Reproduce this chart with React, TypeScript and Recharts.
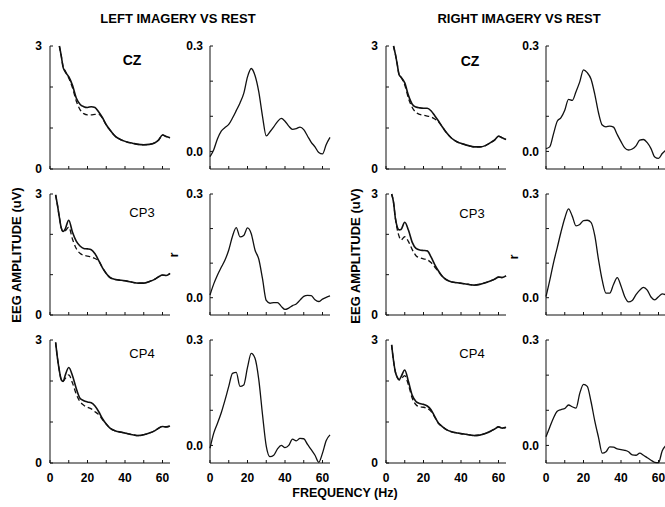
import React from "react";
import { Line, LineChart, XAxis, YAxis } from "recharts";

const FONT = '"Liberation Sans", Arial, Helvetica, sans-serif';

// frequency (Hz) grids
const AMP_FREQ = [3, 4, 5, 6, 7, 8, 10, 12, 14, 16, 18, 20, 22, 24, 26, 28, 30, 32, 35, 38, 41, 44, 47, 50, 53, 56, 58, 60, 62, 64];
const R_FREQ = [0, 2, 4, 6, 8, 10, 12, 14, 16, 18, 20, 22, 24, 26, 28, 30, 32, 34, 36, 38, 40, 42, 44, 46, 48, 50, 52, 54, 56, 58, 60, 62, 64];

const FREQ_TICKS = [0, 10, 20, 30, 40, 50, 60];
const AMP_TICKS = [0, 1, 2, 3];
const R_TICKS = [0, 0.1, 0.2, 0.3];

// EEG amplitude (uV): solid = imagery, dashed = rest
const CZ_L_SOLID = [null, null, 3.0, 2.76, 2.48, 2.38, 2.25, 2.04, 1.73, 1.58, 1.52, 1.50, 1.52, 1.50, 1.39, 1.25, 1.08, 0.95, 0.79, 0.71, 0.66, 0.63, 0.60, 0.59, 0.60, 0.64, 0.71, 0.83, 0.79, 0.76];
const CZ_L_DASH = [null, null, 3.0, 2.76, 2.50, 2.40, 2.22, 1.98, 1.66, 1.45, 1.35, 1.32, 1.32, 1.33, 1.33, 1.24, 1.07, 0.95, 0.79, 0.71, 0.66, 0.63, 0.60, 0.59, 0.60, 0.64, 0.71, 0.83, 0.79, 0.76];
const CP3_L_SOLID = [2.98, 2.72, 2.42, 2.16, 2.07, 2.12, 2.35, 2.05, 1.83, 1.71, 1.65, 1.64, 1.62, 1.52, 1.35, 1.17, 1.03, 0.93, 0.88, 0.86, 0.84, 0.81, 0.79, 0.79, 0.83, 0.89, 0.95, 0.99, 0.98, 1.03];
const CP3_L_DASH = [2.98, 2.72, 2.42, 2.16, 2.07, 2.08, 2.18, 1.88, 1.65, 1.53, 1.48, 1.46, 1.44, 1.40, 1.34, 1.17, 1.03, 0.93, 0.88, 0.86, 0.84, 0.81, 0.79, 0.79, 0.83, 0.89, 0.95, 0.99, 0.98, 1.03];
const CP4_L_SOLID = [2.94, 2.55, 2.25, 2.03, 1.99, 2.12, 2.33, 2.13, 1.82, 1.58, 1.52, 1.49, 1.47, 1.39, 1.25, 1.08, 0.95, 0.85, 0.78, 0.75, 0.72, 0.69, 0.67, 0.69, 0.73, 0.79, 0.85, 0.89, 0.88, 0.90];
const CP4_L_DASH = [2.94, 2.55, 2.25, 2.03, 1.99, 2.05, 2.15, 1.95, 1.68, 1.50, 1.41, 1.36, 1.32, 1.25, 1.18, 1.06, 0.95, 0.85, 0.78, 0.75, 0.72, 0.69, 0.67, 0.69, 0.73, 0.79, 0.85, 0.89, 0.88, 0.90];

const CZ_R_SOLID = [null, 3.0, 2.80, 2.55, 2.30, 2.24, 2.10, 1.79, 1.58, 1.51, 1.49, 1.48, 1.48, 1.42, 1.30, 1.17, 1.03, 0.90, 0.75, 0.66, 0.61, 0.57, 0.54, 0.54, 0.57, 0.65, 0.71, 0.80, 0.76, 0.72];
const CZ_R_DASH = [null, 3.0, 2.80, 2.55, 2.30, 2.24, 2.05, 1.72, 1.50, 1.38, 1.33, 1.31, 1.29, 1.27, 1.22, 1.15, 1.03, 0.90, 0.75, 0.66, 0.61, 0.57, 0.54, 0.54, 0.57, 0.65, 0.71, 0.80, 0.76, 0.72];
const CP3_R_SOLID = [3.0, 2.80, 2.40, 2.18, 2.11, 2.12, 2.30, 2.10, 1.80, 1.65, 1.61, 1.60, 1.59, 1.44, 1.25, 1.09, 0.96, 0.88, 0.82, 0.80, 0.78, 0.76, 0.74, 0.76, 0.80, 0.85, 0.89, 0.94, 0.93, 0.97];
const CP3_R_DASH = [3.0, 2.80, 2.40, 2.12, 1.95, 1.86, 1.94, 1.82, 1.62, 1.47, 1.42, 1.39, 1.37, 1.30, 1.19, 1.07, 0.96, 0.88, 0.82, 0.80, 0.78, 0.76, 0.74, 0.76, 0.80, 0.85, 0.89, 0.94, 0.93, 0.97];
const CP4_R_SOLID = [2.88, 2.50, 2.22, 2.09, 2.03, 2.10, 2.27, 1.98, 1.65, 1.50, 1.45, 1.43, 1.39, 1.30, 1.13, 0.97, 0.89, 0.82, 0.76, 0.73, 0.71, 0.69, 0.67, 0.68, 0.72, 0.78, 0.83, 0.88, 0.85, 0.87];
const CP4_R_DASH = [2.88, 2.50, 2.22, 2.09, 2.03, 2.05, 2.13, 1.90, 1.58, 1.42, 1.37, 1.36, 1.33, 1.26, 1.12, 0.97, 0.89, 0.82, 0.76, 0.73, 0.71, 0.69, 0.67, 0.68, 0.72, 0.78, 0.83, 0.88, 0.85, 0.87];

// correlation r
const CZ_L_R = [-0.015, 0.005, 0.036, 0.058, 0.068, 0.077, 0.095, 0.116, 0.138, 0.165, 0.212, 0.236, 0.216, 0.170, 0.100, 0.044, 0.056, 0.070, 0.085, 0.094, 0.086, 0.072, 0.063, 0.065, 0.069, 0.062, 0.044, 0.026, 0.013, -0.003, -0.007, 0.020, 0.040];
const CP3_L_R = [0.008, 0.040, 0.066, 0.088, 0.109, 0.138, 0.178, 0.203, 0.176, 0.180, 0.202, 0.185, 0.138, 0.112, 0.055, -0.008, -0.016, -0.014, -0.014, -0.025, -0.034, -0.030, -0.023, -0.018, -0.007, 0.004, 0.007, 0.006, -0.006, -0.011, -0.004, 0.001, 0.005];
const CP4_L_R = [-0.008, 0.035, 0.063, 0.093, 0.129, 0.168, 0.205, 0.208, 0.168, 0.172, 0.222, 0.262, 0.248, 0.188, 0.088, -0.002, -0.032, -0.028, -0.010, 0.000, -0.006, 0.000, 0.018, 0.013, 0.020, 0.019, 0.003, -0.012, -0.028, -0.048, -0.022, 0.014, 0.030];
const CZ_R_R = [0.008, 0.013, 0.050, 0.086, 0.096, 0.117, 0.148, 0.145, 0.170, 0.198, 0.232, 0.224, 0.206, 0.163, 0.110, 0.075, 0.070, 0.072, 0.069, 0.048, 0.028, 0.010, 0.004, 0.007, 0.016, 0.032, 0.034, 0.025, 0.008, -0.016, -0.020, -0.006, 0.004];
const CP3_R_R = [0.003, 0.050, 0.101, 0.145, 0.190, 0.230, 0.257, 0.236, 0.208, 0.212, 0.223, 0.224, 0.218, 0.180, 0.110, 0.050, 0.013, 0.013, 0.038, 0.058, 0.034, 0.003, -0.012, -0.008, 0.009, 0.022, 0.030, 0.022, 0.002, -0.006, 0.003, 0.011, 0.008];
const CP4_R_R = [0.025, 0.052, 0.078, 0.097, 0.102, 0.105, 0.115, 0.110, 0.106, 0.148, 0.174, 0.168, 0.125, 0.070, 0.023, -0.022, -0.018, -0.004, -0.005, -0.010, -0.012, -0.014, -0.018, -0.027, -0.028, -0.022, -0.028, -0.035, -0.042, -0.048, -0.049, -0.015, 0.000];

const COL_X = [50, 210, 386, 546];
const ROW_Y = [46, 194, 340];
const ROW_H = [123, 121, 123];
const PLOT_W = 120;
const Y_AXIS_W = 40;
const PAD_TOP = 6;
const PAD_RIGHT = 6;
const X_AXIS_H = 30;
const INK = "#111";

const tickStyle = { fontSize: 12, fontWeight: 700, fill: "#000", fontFamily: FONT };

type Val = number | null;

function Panel({
  col,
  row,
  kind,
  series,
}: {
  col: number;
  row: number;
  kind: "amp" | "r";
  series: Val[][];
}) {
  const freq = kind === "amp" ? AMP_FREQ : R_FREQ;
  const data = freq.map((f, i) => {
    const p: Record<string, Val> = { f };
    series.forEach((s, k) => (p["s" + k] = s[i]));
    return p;
  });
  const h = ROW_H[row];
  const showX = row === 2;
  return (
    <div style={{ position: "absolute", left: COL_X[col] - Y_AXIS_W, top: ROW_Y[row] - PAD_TOP }}>
      <LineChart
        width={Y_AXIS_W + PLOT_W + PAD_RIGHT}
        height={PAD_TOP + h + X_AXIS_H}
        data={data}
        margin={{ top: PAD_TOP, right: PAD_RIGHT, left: 0, bottom: 0 }}
      >
        <XAxis
          dataKey="f"
          type="number"
          domain={[0, 64]}
          ticks={FREQ_TICKS}
          interval={0}
          height={X_AXIS_H}
          stroke={INK}
          tickSize={-3}
          tickMargin={13}
          tick={tickStyle}
          tickFormatter={(v: number) => (showX && v % 20 === 0 ? String(v) : "")}
        />
        {kind === "amp" ? (
          <YAxis
            type="number"
            domain={[0, 3]}
            ticks={AMP_TICKS}
            interval={0}
            width={Y_AXIS_W}
            stroke={INK}
            tickSize={-3}
            tickMargin={11}
            tick={tickStyle}
            tickFormatter={(v: number) => (v === 0 || v === 3 ? String(v) : "")}
          />
        ) : (
          <YAxis
            type="number"
            domain={[-0.05, 0.3]}
            ticks={R_TICKS}
            interval={0}
            width={Y_AXIS_W}
            stroke={INK}
            tickSize={-3}
            tickMargin={10}
            tick={tickStyle}
            tickFormatter={(v: number) => (v === 0 ? "0.0" : v === 0.3 ? "0.3" : "")}
          />
        )}
        {series.map((_, k) => (
          <Line
            key={k}
            dataKey={"s" + k}
            type="monotone"
            stroke={INK}
            strokeWidth={kind === "amp" ? (k === 0 ? 1.6 : 1.3) : 1.3}
            strokeDasharray={k === 1 ? "5 3" : undefined}
            dot={false}
            activeDot={false}
            isAnimationActive={false}
          />
        ))}
      </LineChart>
    </div>
  );
}

function Label({
  x,
  y,
  text,
  size = 12,
  bold = true,
  rotate = false,
}: {
  x: number;
  y: number;
  text: string;
  size?: number;
  bold?: boolean;
  rotate?: boolean;
}) {
  return (
    <div
      style={{
        position: "absolute",
        left: x,
        top: y,
        transform: `translate(-50%, -50%)${rotate ? " rotate(-90deg)" : ""}`,
        whiteSpace: "nowrap",
        fontFamily: FONT,
        fontSize: size,
        fontWeight: bold ? 700 : 400,
        color: "#000",
        lineHeight: 1,
      }}
    >
      {text}
    </div>
  );
}

export default function App() {
  return (
    <div
      style={{
        position: "fixed",
        left: 0,
        top: 0,
        width: 665,
        height: 507,
        overflow: "hidden",
        background: "#fff",
      }}
    >
      <Panel col={0} row={0} kind="amp" series={[CZ_L_SOLID, CZ_L_DASH]} />
      <Panel col={0} row={1} kind="amp" series={[CP3_L_SOLID, CP3_L_DASH]} />
      <Panel col={0} row={2} kind="amp" series={[CP4_L_SOLID, CP4_L_DASH]} />
      <Panel col={1} row={0} kind="r" series={[CZ_L_R]} />
      <Panel col={1} row={1} kind="r" series={[CP3_L_R]} />
      <Panel col={1} row={2} kind="r" series={[CP4_L_R]} />
      <Panel col={2} row={0} kind="amp" series={[CZ_R_SOLID, CZ_R_DASH]} />
      <Panel col={2} row={1} kind="amp" series={[CP3_R_SOLID, CP3_R_DASH]} />
      <Panel col={2} row={2} kind="amp" series={[CP4_R_SOLID, CP4_R_DASH]} />
      <Panel col={3} row={0} kind="r" series={[CZ_R_R]} />
      <Panel col={3} row={1} kind="r" series={[CP3_R_R]} />
      <Panel col={3} row={2} kind="r" series={[CP4_R_R]} />

      <Label x={178} y={18} text="LEFT IMAGERY VS REST" size={13} />
      <Label x={519} y={18} text="RIGHT IMAGERY VS REST" size={13} />
      <Label x={16} y={255} text="EEG AMPLITUDE (uV)" size={13} rotate />
      <Label x={355} y={256} text="EEG AMPLITUDE (uV)" size={13} rotate />
      <Label x={173} y={255} text="r" size={13} rotate />
      <Label x={513} y={257} text="r" size={13} rotate />
      <Label x={345} y={493} text="FREQUENCY (Hz)" size={12.5} />

      <Label x={132} y={60} text="CZ" size={14} />
      <Label x={142} y={212} text="CP3" size={13} bold={false} />
      <Label x={142} y={353} text="CP4" size={13} bold={false} />
      <Label x={470} y={61} text="CZ" size={14} />
      <Label x={472} y={213} text="CP3" size={13} bold={false} />
      <Label x={472} y={353} text="CP4" size={13} bold={false} />
    </div>
  );
}
